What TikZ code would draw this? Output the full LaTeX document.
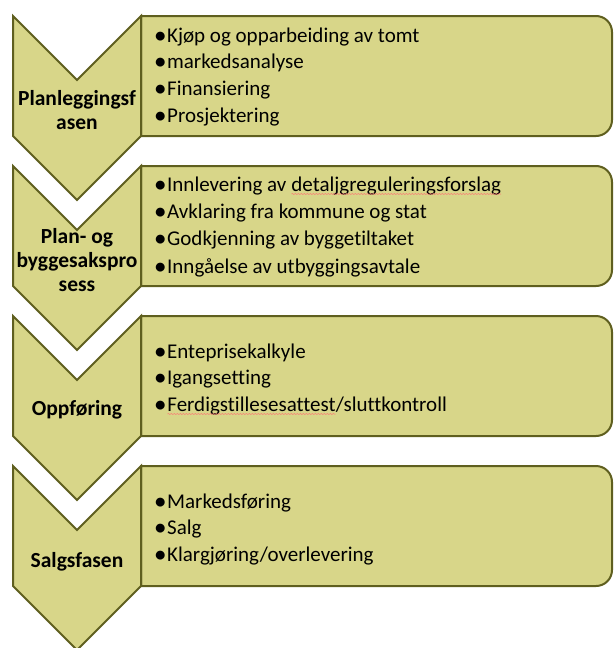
\documentclass[tikz,border=0pt]{standalone}
\usepackage{fontspec}
\setmainfont{Carlito}[Ligatures=NoCommon]
\usetikzlibrary{decorations.pathmorphing}
\definecolor{olivefill}{HTML}{D8D689}
\definecolor{olivedraw}{HTML}{5F5F1F}
\tikzset{
  phase/.style={fill=olivefill, draw=olivedraw, line width=2pt, line join=miter},
  phaselabel/.style={font=\fontsize{21.5}{24}\selectfont\bfseries, align=center, inner sep=0pt},
  item/.style={font=\fontsize{21}{24}\selectfont, anchor=base west, inner sep=0pt}
}
\newcommand{\bul}{\textbf{•}\hspace{1.5pt}}
\newcommand{\redwave}[1]{\tikz[baseline=(w.base)]{\node[inner sep=0pt, outer sep=0pt] (w) {#1};
  \draw[red!55, line width=0.5pt, decorate, decoration={snake, amplitude=0.5pt, segment length=3pt}]
    ([yshift=-3pt]w.base west) -- ([yshift=-3pt]w.base east);}}
\begin{document}
\begin{tikzpicture}[x=1pt, y=-1pt]
        \useasboundingbox (0,0) rectangle (614,648);
        % text boxes
        \foreach \t in {16,166,316,466}
          \draw [phase] (141,\t) [rounded corners=16pt] -- (612,\t) -- (612,\t+120) [sharp corners] -- (141,\t+120) -- cycle;
        % chevrons
        \foreach \t in {16,166,316,466}
          \draw [phase] (13,\t) -- (77,\t+64) -- (141,\t) -- (141,\t+120) -- (77,\t+184) -- (13,\t+120) -- cycle;
        % phase names
        \node[phaselabel] (fase1) at (77,110) {Planleggingsf\\asen};
        \node[phaselabel] (fase2) at (77,260) {Plan- og\\byggesakspro\\sess};
        \node[phaselabel] (fase3) at (77,410) {Oppføring};
        \node[phaselabel] (fase4) at (77,562) {Salgsfasen};
        % bullet lists
        \node[item] (a1) at (155,42) {\bul Kjøp og opparbeiding av tomt};
        \node[item] (a2) at (155,68) {\bul markedsanalyse};
        \node[item] (a3) at (155,95) {\bul Finansiering};
        \node[item] (a4) at (155,122) {\bul Prosjektering};
        \node[item] (b1) at (155,191) {\bul Innlevering av \redwave{detaljgreguleringsforslag}};
        \node[item] (b2) at (155,218) {\bul Avklaring fra kommune og stat};
        \node[item] (b3) at (155,245) {\bul Godkjenning av byggetiltaket};
        \node[item] (b4) at (155,273) {\bul Inngåelse av utbyggingsavtale};
        \node[item] (c1) at (155,358) {\bul Enteprisekalkyle};
        \node[item] (c2) at (155,384) {\bul Igangsetting};
        \node[item] (c3) at (155,411) {\bul\redwave{Ferdigstillesesattest}/sluttkontroll};
        \node[item] (d1) at (155,508) {\bul Markedsføring};
        \node[item] (d2) at (155,534) {\bul Salg};
        \node[item] (d3) at (155,561) {\bul Klargjøring/overlevering};
      \end{tikzpicture}
\end{document}
